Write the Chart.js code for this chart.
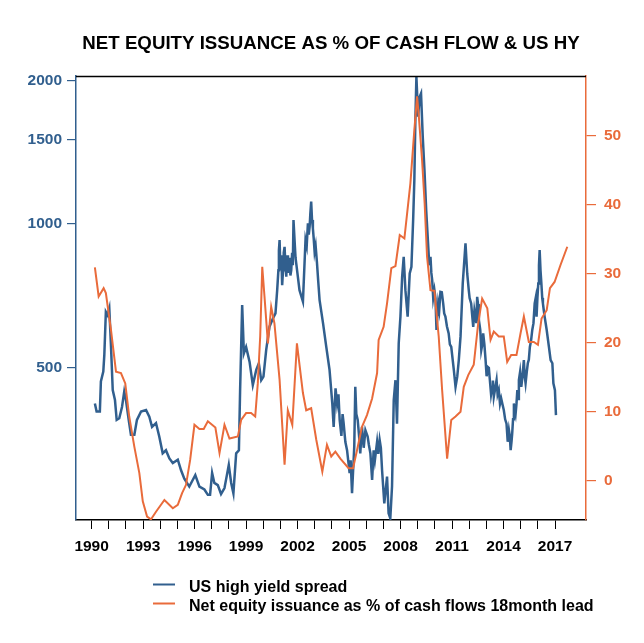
<!DOCTYPE html>
<html><head><meta charset="utf-8">
<script src="https://cdn.jsdelivr.net/npm/chart.js@4.4.1/dist/chart.umd.min.js"></script>
<style>html,body{margin:0;padding:0;background:#fff;} canvas{display:block;}</style>
</head><body>
<canvas id="c" width="644" height="643"></canvas>
<script>
// ---- data ----
const hyYears = [1990.19,1990.29,1990.48,1990.54,1990.68,1990.74,1990.83,1990.93,1991.03,1991.13,1991.23,1991.36,1991.46,1991.61,1991.77,1991.90,1992.00,1992.16,1992.29,1992.49,1992.64,1992.88,1993.17,1993.36,1993.52,1993.75,1993.94,1994.14,1994.33,1994.53,1994.73,1995.02,1995.21,1995.40,1995.69,1995.89,1996.04,1996.28,1996.57,1996.77,1996.90,1997.02,1997.15,1997.35,1997.54,1997.74,1997.88,1997.99,1998.13,1998.26,1998.42,1998.58,1998.65,1998.73,1998.77,1998.87,1999.00,1999.20,1999.39,1999.59,1999.74,1999.88,2000.01,2000.17,2000.36,2000.56,2000.71,2000.81,2000.95,2001.10,2001.24,2001.34,2001.49,2001.63,2001.76,2001.92,2002.11,2002.31,2002.46,2002.60,2002.70,2002.79,2002.89,2002.99,2003.13,2003.28,2003.48,2003.67,2003.86,2004.02,2004.10,2004.21,2004.45,2004.68,2004.88,2005.03,2005.17,2005.30,2005.36,2005.50,2005.65,2005.75,2005.95,2006.08,2006.24,2006.34,2006.43,2006.63,2006.78,2006.92,2007.05,2007.21,2007.30,2007.40,2007.50,2007.60,2007.70,2007.79,2007.89,2007.99,2008.09,2008.18,2008.28,2008.41,2008.53,2008.63,2008.73,2008.80,2008.86,2008.92,2009.02,2009.11,2009.19,2009.29,2009.39,2009.49,2009.60,2009.74,2009.84,2009.97,2010.09,2010.19,2010.32,2010.48,2010.61,2010.80,2010.95,2011.10,2011.20,2011.30,2011.39,2011.49,2011.62,2011.78,2011.88,2011.97,2012.11,2012.23,2012.36,2012.46,2012.56,2012.70,2012.81,2012.95,2013.08,2013.20,2013.34,2013.43,2013.59,2013.72,2013.86,2014.01,2014.17,2014.31,2014.41,2014.50,2014.60,2014.70,2014.80,2014.89,2015.03,2015.18,2015.28,2015.41,2015.53,2015.67,2015.81,2015.92,2016.02,2016.10,2016.20,2016.29,2016.39,2016.51,2016.64,2016.74,2016.84,2016.90,2016.99,2017.05];
const hyValues = [421,405,405,468,491,532,655,645,666,553,449,428,389,392,414,446,428,389,362,362,389,405,408,395,376,383,359,331,336,323,316,321,305,293,282,291,298,282,278,271,271,301,287,284,272,280,298,313,287,273,331,336,449,590,677,536,553,515,460,495,511,471,479,545,609,634,650,727,926,745,896,776,827,801,1020,827,727,688,926,1003,987,1114,979,875,827,693,620,553,495,421,376,453,389,383,336,301,273,342,456,389,331,376,370,359,331,291,336,350,353,305,260,296,248,242,282,428,471,382,563,640,776,854,727,640,788,814,1020,1236,1651,2035,1678,1848,1878,1523,1297,1070,911,854,763,727,600,682,721,682,640,590,553,495,456,479,519,581,751,911,788,727,682,609,640,704,629,545,590,519,502,471,456,435,471,449,431,408,382,370,336,364,421,401,449,471,456,519,464,511,553,600,682,640,751,882,751,682,640,600,553,519,511,464,449,398];
// extra weekly swings read from the thick parts of the spread line
const hyDetailYears = [2000.88,2000.91,2001.00,2001.05,2001.15,2001.19,2001.29,2001.39,2001.44,2001.54,2001.58,2001.68,2001.72,2001.84,2001.88,2002.53,2002.65,2002.74,2002.84,2002.94,2003.05,2003.20,2004.30,2004.38,2004.55,2004.62,2004.78,2005.09,2005.42,2005.58,2005.85,2006.15,2006.50,2006.70,2006.85,2009.67,2009.79,2009.90,2010.03,2010.14,2010.25,2010.40,2010.54,2010.70,2010.87,2012.02,2012.16,2012.30,2012.41,2012.51,2012.64,2012.76,2012.88,2013.01,2013.14,2013.27,2013.38,2013.50,2013.65,2013.79,2013.93,2014.09,2014.24,2014.36,2014.46,2014.55,2014.65,2014.75,2014.85,2014.96,2015.10,2015.23,2015.35,2015.47,2015.60,2015.74,2015.87,2015.97,2016.06,2016.15,2016.25,2016.34,2016.45];
const hyDetailValues = [800,880,800,860,800,870,820,860,790,850,780,870,820,900,850,900,950,1050,1020,930,900,760,420,440,360,400,350,320,400,360,340,345,320,330,340,820,790,700,700,640,660,720,650,610,560,700,650,660,620,680,600,560,560,480,500,440,470,450,440,420,420,390,350,360,350,390,410,420,430,490,480,480,490,520,570,620,700,700,820,800,700,660,620];

const eqYears = [1990.19,1990.41,1990.70,1990.83,1991.13,1991.42,1991.71,1991.96,1992.19,1992.49,1992.78,1992.98,1993.23,1993.46,1993.75,1994.24,1994.73,1995.02,1995.27,1995.50,1995.74,1995.99,1996.28,1996.53,1996.77,1997.21,1997.45,1997.74,1998.03,1998.52,1998.71,1999.00,1999.29,1999.53,1999.68,1999.82,1999.94,2000.07,2000.27,2000.46,2000.65,2000.95,2001.24,2001.43,2001.69,2001.96,2002.31,2002.50,2002.79,2003.09,2003.44,2003.71,2003.96,2004.20,2004.49,2004.97,2005.23,2005.46,2005.75,2006.04,2006.34,2006.63,2006.72,2007.01,2007.21,2007.46,2007.70,2007.95,2008.22,2008.57,2008.80,2008.96,2009.05,2009.25,2009.40,2009.54,2009.74,2009.97,2010.22,2010.42,2010.71,2010.95,2011.20,2011.49,2011.68,2011.94,2012.26,2012.52,2012.75,2013.05,2013.24,2013.43,2013.72,2014.01,2014.21,2014.44,2014.75,2014.99,2015.18,2015.47,2015.76,2016.00,2016.21,2016.51,2016.70,2016.97,2017.32,2017.71];
const eqValues = [30.9,26.7,27.9,27.2,21.8,15.8,15.6,14.1,9.3,4.9,1.1,-3.0,-5.2,-5.6,-4.5,-2.8,-4.0,-3.5,-1.8,-0.6,3.0,8.1,7.5,7.5,8.6,7.7,4.0,8.1,6.1,6.4,8.8,9.8,9.8,9.3,14.1,20.9,31.0,26.7,19.9,25.2,22.8,14.6,2.3,10.2,8.1,19.9,12.7,10.2,10.5,5.9,1.3,5.2,3.5,4.2,3.2,1.8,1.8,4.4,7.8,9.5,11.9,15.6,20.4,22.3,25.7,30.8,31.1,35.6,35.1,43.1,50.8,55.7,53.2,46.5,40.2,32.5,27.6,27.5,20.9,13.1,3.2,8.8,9.3,10.0,13.6,15.3,16.8,22.8,26.4,25.0,20.4,21.6,20.9,20.9,17.2,18.2,18.2,21.4,23.8,20.1,20.1,19.7,23.5,24.7,27.9,28.8,31.3,33.9];

const xTickYears = [1990,1991,1992,1993,1994,1995,1996,1997,1998,1999,2000,2001,2002,2003,2004,2005,2006,2007,2008,2009,2010,2011,2012,2013,2014,2015,2016,2017];
const xLabelYears = [1990,1993,1996,1999,2002,2005,2008,2011,2014,2017];
const leftTicks = [500,1000,1500,2000];
const rightTicks = [0,10,20,30,40,50];
const titleText = 'NET EQUITY ISSUANCE AS % OF CASH FLOW & US HY';
const seriesLabels = ['US high yield spread','Net equity issuance as % of cash flows 18month lead'];

// ---- styles ----
const BLUE = '#315f8e';
const ORANGE = '#e96b3b';
const FONT = '"Liberation Sans", Arial, sans-serif';

const hyPoints = hyYears.map((x, i) => ({x, y: hyValues[i]}))
  .concat(hyDetailYears.map((x, i) => ({x, y: hyDetailValues[i]})))
  .sort((a, b) => a.x - b.x);
const eqPoints = eqYears.map((x, i) => ({x, y: eqValues[i]}));

const decor = {
  id: 'decor',
  afterDraw(chart) {
    const ctx = chart.ctx, a = chart.chartArea;
    ctx.save();
    ctx.strokeStyle = '#000'; ctx.lineWidth = 1.5;
    ctx.beginPath(); ctx.moveTo(a.left, a.top + 0.5); ctx.lineTo(a.right, a.top + 0.5); ctx.stroke();
    ctx.fillStyle = '#000';
    ctx.font = 'bold 18.7px ' + FONT;
    ctx.textAlign = 'center'; ctx.textBaseline = 'alphabetic';
    ctx.fillText(titleText, (a.left + a.right) / 2, 49);
    const cols = [BLUE, ORANGE];
    const ys = [584.5, 603.5];
    ctx.font = 'bold 16px ' + FONT; ctx.textAlign = 'left';
    seriesLabels.forEach((lab, i) => {
      ctx.strokeStyle = cols[i]; ctx.lineWidth = 2;
      ctx.beginPath(); ctx.moveTo(153, ys[i]); ctx.lineTo(175, ys[i]); ctx.stroke();
      ctx.fillStyle = '#000';
      ctx.fillText(lab, 189, ys[i] + 7.5);
    });
    ctx.restore();
  }
};

new Chart(document.getElementById('c'), {
  type: 'line',
  data: {
    datasets: [
      { label: seriesLabels[0], data: hyPoints,
        yAxisID: 'y', borderColor: BLUE, borderWidth: 2.5, pointRadius: 0, tension: 0, order: 1 },
      { label: seriesLabels[1], data: eqPoints,
        yAxisID: 'y1', borderColor: ORANGE, borderWidth: 2, pointRadius: 0, tension: 0, order: 0 }
    ]
  },
  options: {
    responsive: false, animation: false, devicePixelRatio: 1,
    layout: { padding: { top: 76, left: 0, right: 0, bottom: 0 } },
    plugins: { legend: { display: false }, title: { display: false }, tooltip: { enabled: false } },
    scales: {
      x: {
        type: 'linear', position: 'bottom', min: 1989.09, max: 2018.8,
        afterBuildTicks: s => { s.ticks = xTickYears.map(v => ({ value: v })); },
        afterFit: s => { s.height = 123; },
        ticks: { autoSkip: false, maxRotation: 0, padding: 8, color: '#000',
          font: { family: FONT, size: 15.5, weight: 'bold' },
          callback: v => xLabelYears.includes(v) ? String(v) : '' },
        grid: { drawOnChartArea: false, drawTicks: true, tickLength: 9, color: '#000', lineWidth: 1 },
        border: { display: true, color: '#000', width: 1.5 }
      },
      y: {
        type: 'logarithmic', position: 'left', min: 240, max: 2042,
        afterBuildTicks: s => { s.ticks = leftTicks.map(v => ({ value: v })); },
        afterFit: s => { s.width = 76; },
        ticks: { padding: 5, color: BLUE, font: { family: FONT, size: 15.5, weight: 'bold' },
          callback: v => String(v) },
        grid: { drawOnChartArea: false, drawTicks: true, tickLength: 9, color: BLUE, lineWidth: 1.2 },
        border: { display: true, color: BLUE, width: 1.5 }
      },
      y1: {
        type: 'linear', position: 'right', min: -5.7, max: 58.65,
        afterBuildTicks: s => { s.ticks = rightTicks.map(v => ({ value: v })); },
        afterFit: s => { s.width = 58; },
        ticks: { padding: 8, color: ORANGE, font: { family: FONT, size: 15.5, weight: 'bold' },
          callback: v => String(v) },
        grid: { drawOnChartArea: false, drawTicks: true, tickLength: 10, color: ORANGE, lineWidth: 1.2 },
        border: { display: true, color: ORANGE, width: 1.5 }
      }
    }
  },
  plugins: [decor]
});
</script>
</body></html>
